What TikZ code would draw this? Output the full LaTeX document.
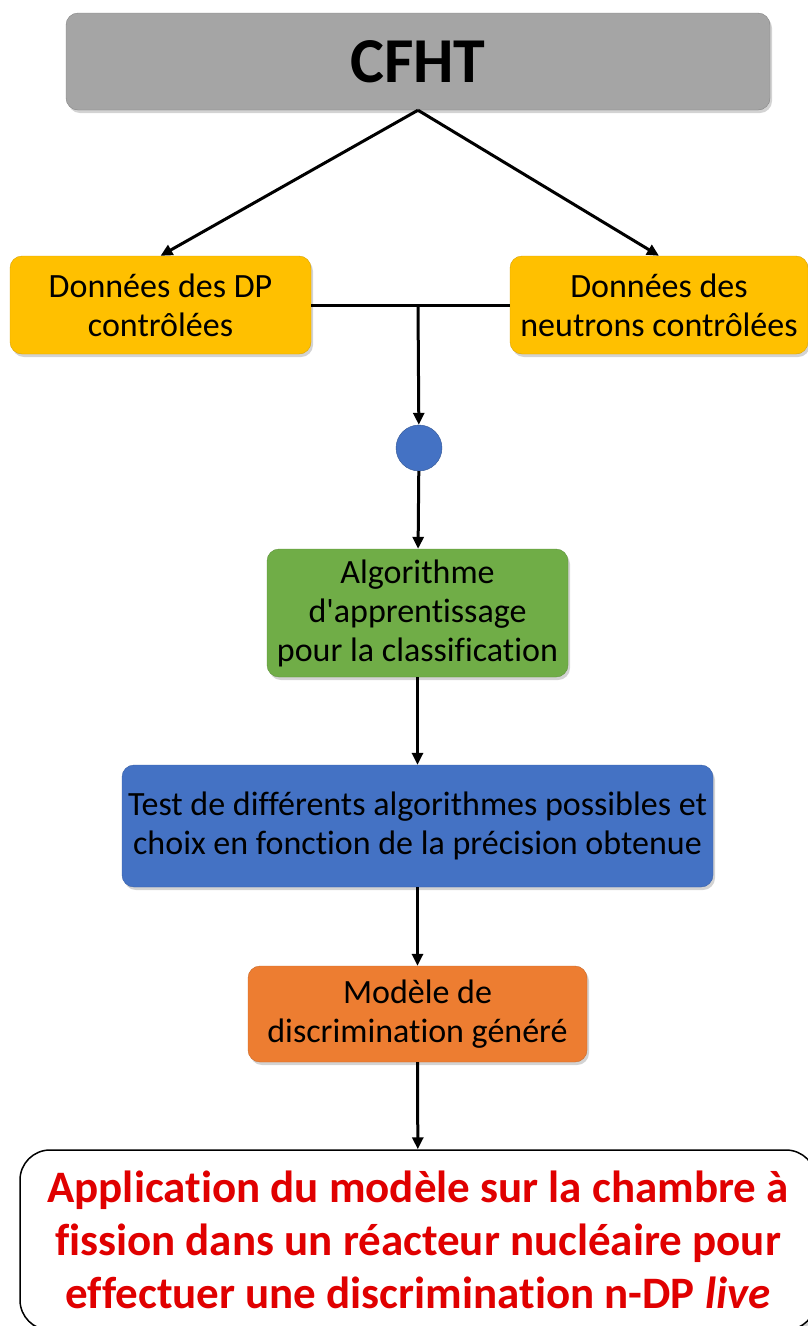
\documentclass[tikz,border=0pt]{standalone}
\usepackage{fontspec}
\setmainfont{Carlito}[Ligatures={TeX,NoCommon}]
\usetikzlibrary{arrows.meta,positioning,shadows,calc}

\definecolor{grau}{HTML}{A5A5A5}
\definecolor{gelb}{HTML}{FFC000}
\definecolor{gruen}{HTML}{70AD47}
\definecolor{blau}{HTML}{4472C4}
\definecolor{orangeb}{HTML}{ED7D31}
\definecolor{rot}{HTML}{E00000}

\begin{document}
\begin{tikzpicture}[x=1pt,y=-1pt,
    kasten/.style={rounded corners=12pt, inner sep=0pt, align=center,
      drop shadow={shadow xshift=2pt,shadow yshift=-3pt,opacity=0.35},
      font=\fontsize{34}{39}\selectfont},
    pfeil/.style={-{Triangle[length=12pt,width=11pt]}, line width=3pt},
    linie/.style={line width=3pt}]
    		\useasboundingbox (0,0) rectangle (808,1326);
    		% Kaesten zeichnen
    		\node[kasten, fill=grau, draw=grau!80!black, minimum width=704pt, minimum height=97pt,
    		  font=\fontsize{64}{70}\selectfont\bfseries] (cfht) at (418,61.5) {CFHT};
    		\node[kasten, fill=gelb, draw=gelb!85!black, minimum width=301pt, minimum height=98pt] (dp) at (160.5,305) {Données des DP\\contrôlées};
    		\node[kasten, fill=gelb, draw=gelb!85!black, minimum width=298pt, minimum height=98pt] (neutron) at (659,305) {Données des\\neutrons contrôlées};
    		\node[circle, fill=blau, draw=blau!75!black, minimum size=46pt, inner sep=0pt] (knoten) at (419,448) {};
    		\node[kasten, fill=gruen, draw=gruen!85!black, minimum width=301pt, minimum height=128pt] (algo) at (417.5,613) {Algorithme\\d\textquotesingle apprentissage\\pour la classification};
    		\node[kasten, fill=blau, draw=blau!85!black, minimum width=591pt, minimum height=122pt] (test) at (417.5,826) {Test de différents algorithmes possibles et\\choix en fonction de la précision obtenue};
    		\node[kasten, fill=orangeb, draw=orangeb!85!black, minimum width=339pt, minimum height=96pt] (modele) at (417.5,1014) {Modèle de\\discrimination généré};
    		\node[kasten, fill=white, draw=black, line width=1.5pt, rounded corners=30pt, minimum width=796pt, minimum height=180pt,
    		  text=rot, font=\fontsize{45}{53}\selectfont\bfseries] (appl) at (418,1240) {Application du modèle sur la chambre à\\fission dans un réacteur nucléaire pour\\effectuer une discrimination n-DP \textit{live}};
    		
    		% Verbindungen
    		\draw[pfeil] (cfht.south) -- (dp.north);
    		\draw[pfeil] (cfht.south) -- (neutron.north);
    		\draw[linie] (dp.east) -- (neutron.west);
    		\coordinate (mitte) at (cfht.south |- dp.east);
    		\draw[pfeil] (mitte) -- (knoten);
    		\draw[pfeil] (knoten) -- (algo);
    		\draw[pfeil] (algo) -- (test);
    		\draw[pfeil] (test) -- (modele);
    		\draw[pfeil] (modele) -- (appl);
    		
\end{tikzpicture}
\end{document}
